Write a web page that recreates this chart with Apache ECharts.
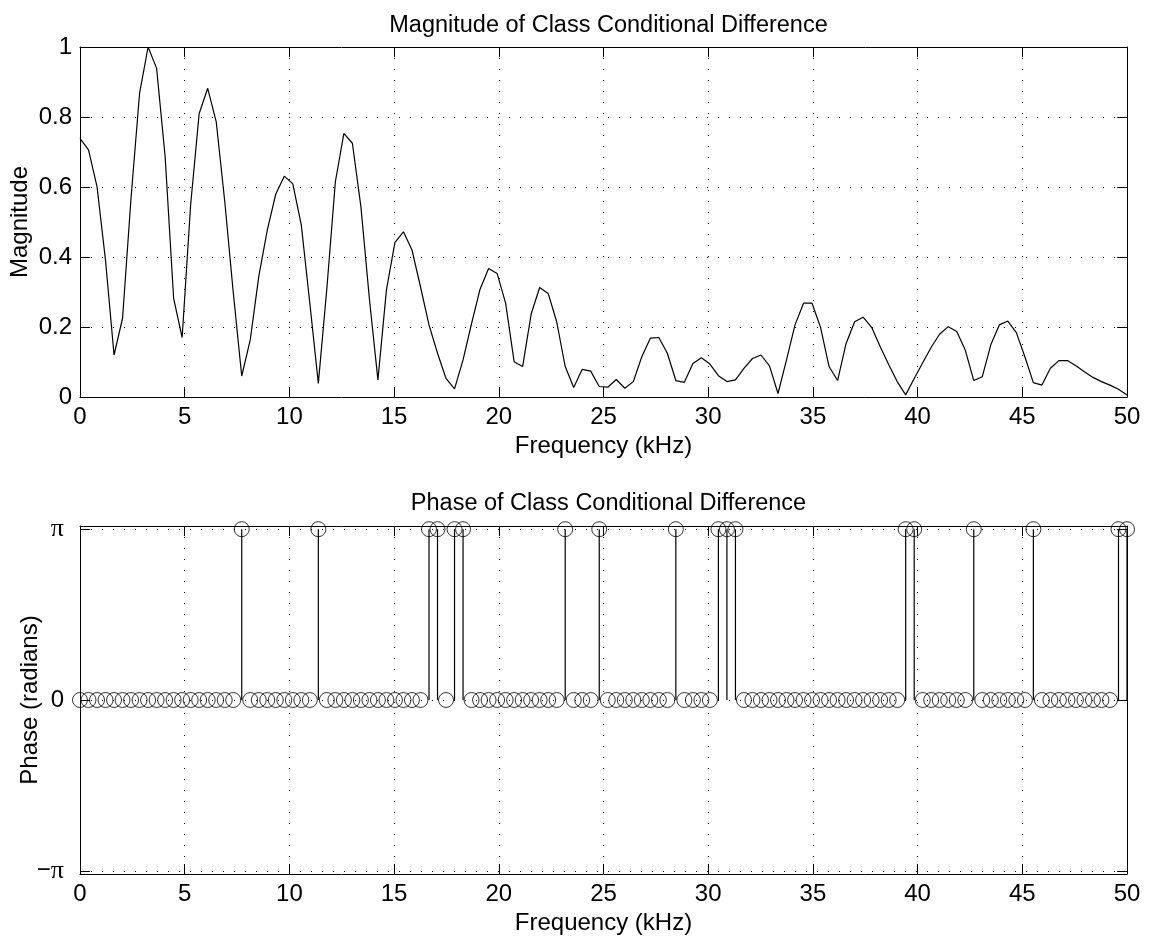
<!DOCTYPE html>
<html>
<head>
<meta charset="utf-8">
<script src="https://cdn.jsdelivr.net/npm/echarts@6/dist/echarts.min.js"></script>
<style>
html,body{margin:0;padding:0;background:#fff;}
#c{width:1149px;height:939px;}
</style>
</head>
<body>
<div id="c"></div>
<script>
// ---- data ----
const titles = ['Magnitude of Class Conditional Difference', 'Phase of Class Conditional Difference'];
const xLabel = 'Frequency (kHz)';
const yLabels = ['Magnitude', 'Phase (radians)'];
const freqMax = 50;            // kHz, last frequency bin
const magnitude = [
  0.739, 0.706, 0.601, 0.39, 0.12, 0.225, 0.57, 0.868, 1.0, 0.939,
  0.687, 0.282, 0.170, 0.55, 0.81, 0.882, 0.787, 0.56, 0.30, 0.06,
  0.163, 0.344, 0.477, 0.58, 0.631, 0.609, 0.491, 0.268, 0.039, 0.31,
  0.615, 0.753, 0.725, 0.544, 0.28, 0.049, 0.306, 0.442, 0.472, 0.42,
  0.315, 0.206, 0.125, 0.053, 0.023, 0.106, 0.21, 0.308, 0.367, 0.353,
  0.268, 0.101, 0.087, 0.237, 0.313, 0.296, 0.215, 0.087, 0.027, 0.079,
  0.074, 0.03, 0.028, 0.05, 0.025, 0.044, 0.115, 0.168, 0.17, 0.125,
  0.047, 0.042, 0.096, 0.112, 0.094, 0.061, 0.044, 0.049, 0.082, 0.11,
  0.12, 0.089, 0.01, 0.106, 0.206, 0.268, 0.268, 0.199, 0.087, 0.047,
  0.153, 0.215, 0.228, 0.199, 0.144, 0.093, 0.044, 0.006, 0.053, 0.098,
  0.142, 0.18, 0.201, 0.187, 0.134, 0.047, 0.058, 0.149, 0.206, 0.217,
  0.184, 0.115, 0.041, 0.034, 0.082, 0.104, 0.104, 0.089, 0.072, 0.056,
  0.044, 0.034, 0.022, 0.006
];
const P = Math.PI;
const phase = [
  0,0,0,0,0,0,0,0,0,0,
  0,0,0,0,0,0,0,0,0,P,
  0,0,0,0,0,0,0,0,P,0,
  0,0,0,0,0,0,0,0,0,0,
  0,P,P,0,P,P,0,0,0,0,
  0,0,0,0,0,0,0,P,0,0,
  0,P,0,0,0,0,0,0,0,0,
  P,0,0,0,0,P,P,P,0,0,
  0,0,0,0,0,0,0,0,0,0,
  0,0,0,0,0,0,0,P,P,0,
  0,0,0,0,0,P,0,0,0,0,
  0,0,P,0,0,0,0,0,0,0,
  0,0,P,P
];
const phaseTicks = [-P, 0, P];
// evenly spaced frequency bins from 0 to freqMax
const freq = magnitude.map((_, i) => i * freqMax / (magnitude.length - 1));

// ---- chart ----
const FONT = '"Liberation Sans", Arial, Helvetica, sans-serif';
const FS = 24;
const FT = 23.5;
const black = '#000';
const grids = [
  {left: 80, top: 47, width: 1047, height: 350, containLabel: false, outerBoundsMode: 'none'},
  {left: 80, top: 526, width: 1047, height: 348, containLabel: false, outerBoundsMode: 'none'}
];
const dotted = {color: '#000', width: 1, type: [1, 10]};

function xAxes(g) {
  return [
    {
      gridIndex: g, type: 'value', min: 0, max: 50, interval: 5, position: 'bottom',
      name: xLabel, nameLocation: 'middle', nameGap: 37, nameMoveOverlap: false,
      nameTextStyle: {fontSize: FS, color: black, fontFamily: FONT},
      axisLine: {onZero: false, lineStyle: {color: black, width: 1}},
      axisTick: {inside: true, length: 10, lineStyle: {color: black}},
      axisLabel: {margin: 8, fontSize: FS, color: black, fontFamily: FONT},
      splitLine: {show: true, lineStyle: dotted}
    },
    {
      gridIndex: g, type: 'value', min: 0, max: 50, interval: 5, position: 'top',
      axisLine: {onZero: false, lineStyle: {color: black, width: 1}},
      axisTick: {inside: true, length: 10, lineStyle: {color: black}},
      axisLabel: {show: false},
      splitLine: {show: false}
    }
  ];
}

const yAxis = [
  {
    gridIndex: 0, type: 'value', min: 0, max: 1, interval: 0.2, position: 'left',
    name: yLabels[0], nameLocation: 'middle', nameRotate: 90, nameGap: 48, nameMoveOverlap: false,
    nameTextStyle: {fontSize: FS, color: black, fontFamily: FONT},
    axisLine: {onZero: false, lineStyle: {color: black, width: 1}},
    axisTick: {inside: true, length: 10, lineStyle: {color: black}},
    axisLabel: {margin: 8, fontSize: FS, color: black, fontFamily: FONT},
    splitLine: {show: true, lineStyle: dotted}
  },
  {
    gridIndex: 0, type: 'value', min: 0, max: 1, interval: 0.2, position: 'right',
    axisLine: {onZero: false, lineStyle: {color: black, width: 1}},
    axisTick: {inside: true, length: 10, lineStyle: {color: black}},
    axisLabel: {show: false},
    splitLine: {show: false}
  },
  {
    gridIndex: 1, type: 'value', min: -3.2, max: 3.2, position: 'left',
    name: yLabels[1], nameLocation: 'middle', nameRotate: 90, nameGap: 38, nameMoveOverlap: false,
    nameTextStyle: {fontSize: FS, color: black, fontFamily: FONT},
    axisLine: {onZero: false, lineStyle: {color: black, width: 1}},
    axisTick: {inside: true, length: 10, customValues: phaseTicks, lineStyle: {color: black}},
    axisLabel: {
      margin: 16, fontSize: FS, color: black, fontFamily: FONT, customValues: phaseTicks,
      formatter: v => v > 1 ? '{p|π}' : (v < -1 ? '−{p|π}' : '0'),
      rich: {p: {fontFamily: '"Liberation Serif", "DejaVu Serif", serif', fontSize: FS + 2, color: black}}
    },
    splitLine: {show: true, lineStyle: dotted}
  },
  {
    gridIndex: 1, type: 'value', min: -3.2, max: 3.2, position: 'right',
    axisLine: {onZero: false, lineStyle: {color: black, width: 1}},
    axisTick: {inside: true, length: 10, customValues: phaseTicks, lineStyle: {color: black}},
    axisLabel: {show: false},
    splitLine: {show: false}
  }
];

const option = {
  animation: false,
  backgroundColor: '#fff',
  textStyle: {fontFamily: FONT},
  title: [
    {text: titles[0], left: 603.5, top: 9, textAlign: 'center',
     textStyle: {fontSize: FT, fontWeight: 'normal', color: black, fontFamily: FONT}},
    {text: titles[1], left: 603.5, top: 487, textAlign: 'center',
     textStyle: {fontSize: FT, fontWeight: 'normal', color: black, fontFamily: FONT}}
  ],
  grid: grids,
  xAxis: [...xAxes(0), ...xAxes(1)],
  yAxis: yAxis,
  series: [
    {
      type: 'line', xAxisIndex: 0, yAxisIndex: 0,
      data: magnitude.map((v, i) => [freq[i], v]),
      showSymbol: false, symbol: 'none',
      lineStyle: {color: black, width: 1.2},
      z: 3
    },
    {
      type: 'custom', xAxisIndex: 2, yAxisIndex: 2,
      data: phase.map((v, i) => [freq[i], v]),
      renderItem: function (params, api) {
        const x = api.value(0), y = api.value(1);
        const p0 = api.coord([x, 0]);
        const p1 = api.coord([x, y]);
        return {
          type: 'line',
          shape: {x1: p0[0], y1: p0[1], x2: p1[0], y2: p1[1]},
          style: {stroke: black, lineWidth: 1.2}
        };
      },
      z: 3
    },
    {
      type: 'scatter', xAxisIndex: 2, yAxisIndex: 2,
      data: phase.map((v, i) => [freq[i], v]),
      symbol: 'circle', symbolSize: 15, clip: false,
      itemStyle: {color: 'rgba(0,0,0,0)', borderColor: black, borderWidth: 1},
      z: 4
    }
  ]
};

const chart = echarts.init(document.getElementById('c'), null, {renderer: 'canvas'});
chart.setOption(option);
</script>
</body>
</html>
